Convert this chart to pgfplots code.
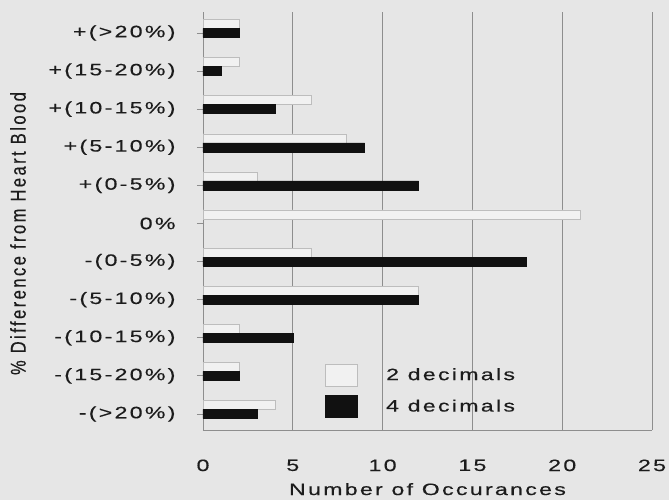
\documentclass[border=0pt]{standalone}
\usepackage{fontspec}
\usepackage{graphicx}
\usepackage{pgfplots}
\pgfplotsset{compat=1.18}
\setmainfont[LetterSpace=14,FakeStretch=1.4,FakeBold=0.4]{Liberation Sans}
\newfontfamily\ylabfont[LetterSpace=15,FakeBold=0.4]{Liberation Sans}
\definecolor{bggray}{HTML}{E6E6E6}
\definecolor{gridgray}{HTML}{8E8E8E}
\definecolor{txt}{HTML}{1C1C1C}
\definecolor{barblack}{HTML}{111111}
\definecolor{barwhite}{HTML}{F1F1F1}
\definecolor{baredge}{HTML}{BDBDBD}

\begin{document}
\begin{tikzpicture}
\fill[bggray,use as bounding box] (-203pt,-70pt) rectangle (466pt,430pt);
\begin{axis}[
    scale only axis,
    width=449pt, height=418pt,
    at={(0pt,0pt)}, anchor=south west,
    xmin=0, xmax=25,
    ymin=-0.42, ymax=10.55,
    xtick={0,5,10,15,20,25},
    ytick={0,...,10},
    yticklabels={-(>20\%),-(15-20\%),-(10-15\%),-(5-10\%),-(0-5\%),0\%,+(0-5\%),+(5-10\%),+(10-15\%),+(15-20\%),+(>20\%)},
    axis x line=bottom, axis y line=left,
    axis line style={draw=gridgray, line width=0.8pt, -},
    xmajorgrids,
    major grid style={draw=gridgray, line width=0.8pt},
    x tick style={draw=none},
    y tick style={draw=gridgray, line width=0.8pt},
    tick align=outside, major tick length=6pt,
    /pgf/number format/assume math mode=true,
    tick label style={font=\fontsize{16.5}{19}\selectfont, text=txt},
    yticklabel style={xshift=-18pt},
    xticklabel style={yshift=-20pt},
    xlabel={Number of Occurances},
    xlabel style={font=\fontsize{16.5}{19}\selectfont, text=txt, yshift=-5pt},
    ylabel={\scalebox{1}[1.3]{\ylabfont \% Difference from Heart Blood}},
    ylabel style={font=\fontsize{16.5}{19}\selectfont, text=txt, at={(rel axis cs:-0.412,0.47)}, anchor=center},
    xbar, bar width=9pt,
    legend style={draw=none, fill=none, at={(axis cs:6.6,-0.15)}, anchor=south west,
        font=\fontsize{16.5}{19}\selectfont, text=txt, row sep=9pt,
        nodes={inner xsep=3pt}},
    legend cell align=left,
    legend image code/.code={\draw[#1] (0pt,-11pt) rectangle (32pt,11pt); \path (58pt,0pt);},
]
\addplot[draw=baredge, fill=barwhite, bar shift=9pt] coordinates {
    (4,0) (2,1) (2,2) (12,3) (6,4) (21,5) (3,6) (8,7) (6,8) (2,9) (2,10)
};
\addplot[draw=barblack, fill=barblack, bar shift=0pt] coordinates {
    (3,0) (2,1) (5,2) (12,3) (18,4) (12,6) (9,7) (4,8) (1,9) (2,10)
};
\legend{2 decimals, 4 decimals}
\end{axis}
\end{tikzpicture}
\end{document}
